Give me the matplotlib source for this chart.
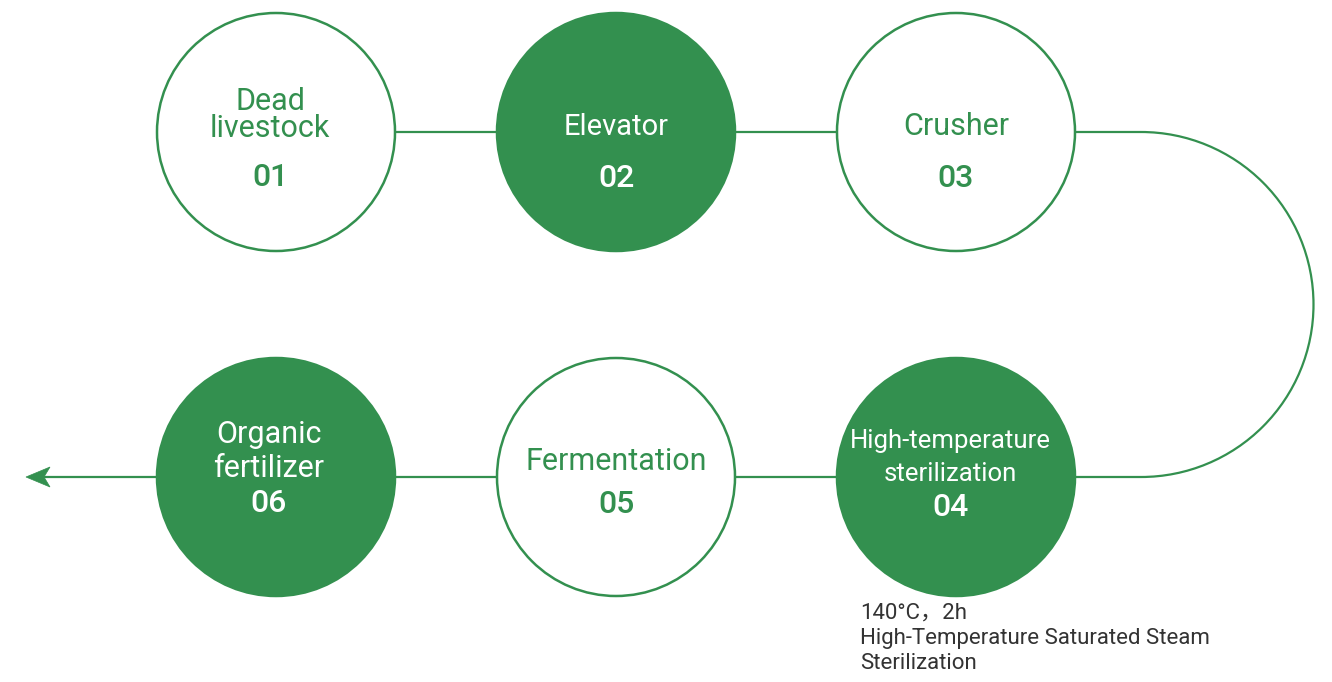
import matplotlib
matplotlib.use("Agg")
import matplotlib.pyplot as plt
from matplotlib.patches import Circle, Arc, Polygon

# ---- content ----
step_labels = [["Dead", "livestock"], ["Elevator"], ["Crusher"],
               ["High-temperature", "sterilization"], ["Fermentation"], ["Organic", "fertilizer"]]
step_numbers = ["01", "02", "03", "04", "05", "06"]
step_filled = [False, True, False, True, False, True]
note_lines = ["140°C，2h", "High-Temperature Saturated Steam", "Sterilization"]

# ---- layout (pixels) ----
W, H = 1332, 682
GREEN = "#33904f"
col_x = [276, 616, 956]
row_y = [132, 477]
R = 119
centers = [(col_x[0], row_y[0]), (col_x[1], row_y[0]), (col_x[2], row_y[0]),
           (col_x[2], row_y[1]), (col_x[1], row_y[1]), (col_x[0], row_y[1])]
label_base = [[110, 137], [135], [135], [448, 481], [470], [443, 477]]
label_size = [22, 21, 22, 18.5, 22, 22]
num_base = [186, 187, 187, 516, 513, 512]
label_dx = [-6, 0, 0, -6, 0, -7]

fig = plt.figure(figsize=(W / 100, H / 100), dpi=100)
ax = fig.add_axes([0, 0, 1, 1])
ax.set_xlim(0, W)
ax.set_ylim(H, 0)
ax.axis("off")

FONT = ["Roboto", "Noto Sans CJK SC", "DejaVu Sans"]

# connectors
arc_cx = 1141
arc_r = (row_y[1] - row_y[0]) / 2
ax.plot([col_x[0], arc_cx], [row_y[0], row_y[0]], color=GREEN, lw=1.6, zorder=1, solid_capstyle="butt")
ax.plot([arc_cx, 40], [row_y[1], row_y[1]], color=GREEN, lw=1.6, zorder=1, solid_capstyle="butt")
ax.add_patch(Arc((arc_cx, (row_y[0] + row_y[1]) / 2), 2 * arc_r, 2 * arc_r,
                 theta1=-90, theta2=90, color=GREEN, lw=1.6, zorder=1))
ax.add_patch(Polygon([(26, row_y[1]), (50, row_y[1] - 10), (44, row_y[1]), (50, row_y[1] + 10)],
                     closed=True, facecolor=GREEN, edgecolor=GREEN, lw=0.5, zorder=2))

for (cx, cy), lab, num, filled, lb, ls, nb, dx in zip(centers, step_labels, step_numbers,
                                                      step_filled, label_base, label_size,
                                                      num_base, label_dx):
    ax.add_patch(Circle((cx, cy), R, facecolor=GREEN if filled else "white",
                        edgecolor=GREEN, lw=1.8, zorder=3))
    tc = "white" if filled else GREEN
    for line, y in zip(lab, lb):
        ax.text(cx + dx, y, line, ha="center", va="baseline", fontsize=ls, color=tc,
                family=FONT, zorder=4)
    ax.text(cx + dx, nb, num, ha="center", va="baseline", fontsize=23, color=tc,
            family=FONT, fontweight="medium", zorder=4)

for line, y in zip(note_lines, [619, 644, 669]):
    ax.text(860, y, line, ha="left", va="baseline", fontsize=16, color="#333333",
            family=FONT, zorder=4)

fig.savefig("out.png", dpi=100, facecolor="white")
